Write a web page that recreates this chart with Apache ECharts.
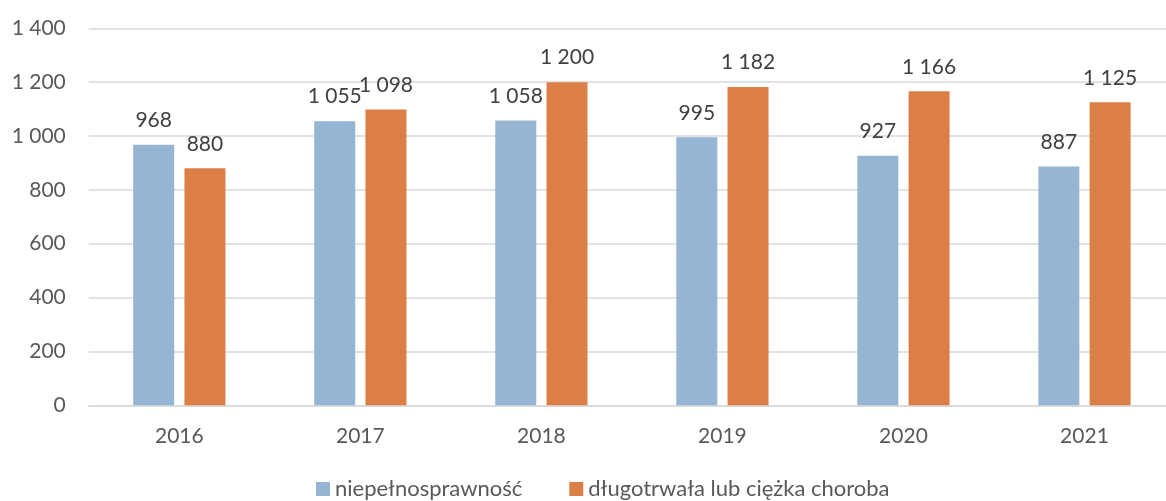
<!DOCTYPE html>
<html>
<head>
<meta charset="utf-8">
<script src="https://cdn.jsdelivr.net/npm/echarts@6/dist/echarts.min.js"></script>
<style>html,body{margin:0;padding:0;background:#fff;overflow:hidden}#c{width:1175px;height:501px}</style>
</head>
<body>
<div id="c"></div>
<script>
const categories = ['2016', '2017', '2018', '2019', '2020', '2021'];
const seriesNames = ['niepełnosprawność', 'długotrwała lub ciężka choroba'];
const disability = [968, 1055, 1058, 995, 927, 887];
const illness = [880, 1098, 1200, 1182, 1166, 1125];
const yTicks = { min: 0, max: 1400, interval: 200 };

const fmt = v => String(v).replace(/\B(?=(\d{3})+(?!\d))/g, ' ');
const FONT = 'Lato, sans-serif';
const TXT = '#595959';

const chart = echarts.init(document.getElementById('c'));
const labelCfg = {
  show: true, position: 'top', distance: 14,
  color: '#404040', fontFamily: FONT, fontSize: 21,
  formatter: p => fmt(p.value)
};
chart.setOption({
  animation: false,
  backgroundColor: '#fff',
  grid: { left: 88.8, right: 0, top: 28.3, bottom: 95.7, containLabel: false },
  legend: {
    left: 311, top: 473, itemWidth: 14, itemHeight: 14, itemGap: 47,
    icon: 'rect',
    textStyle: { color: TXT, fontFamily: FONT, fontSize: 22 },
    data: seriesNames
  },
  xAxis: {
    type: 'category', data: categories,
    axisLine: { lineStyle: { color: '#d9d9d9', width: 1.5 } },
    axisTick: { show: false },
    axisLabel: { color: TXT, fontFamily: FONT, fontSize: 21, margin: 20 }
  },
  yAxis: {
    type: 'value', min: yTicks.min, max: yTicks.max, interval: yTicks.interval,
    axisLine: { show: false }, axisTick: { show: false },
    axisLabel: { color: TXT, fontFamily: FONT, fontSize: 21, margin: 23, formatter: fmt },
    splitLine: { lineStyle: { color: '#d9d9d9', width: 1.5 } }
  },
  series: [
    { name: seriesNames[0], type: 'bar', data: disability, barWidth: 41, barGap: '25%',
      itemStyle: { color: '#95B5D3' }, label: labelCfg },
    { name: seriesNames[1], type: 'bar', data: illness, barWidth: 41, barGap: '25%',
      itemStyle: { color: '#DC7F47' }, label: labelCfg }
  ]
});
</script>
</body>
</html>
